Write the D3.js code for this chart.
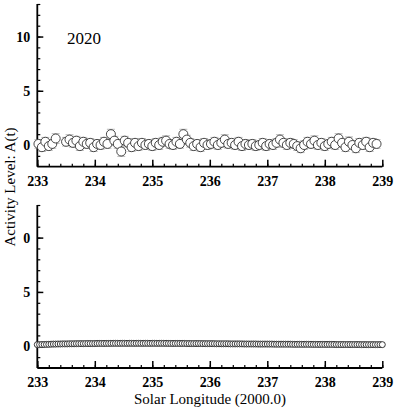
<!DOCTYPE html>
<html><head><meta charset="utf-8">
<script src="https://cdn.jsdelivr.net/npm/d3@7"></script>
<style>body{margin:0;background:#fff}svg{display:block}</style>
</head><body>
<script>
// ---- data ----
const xTicks = [233, 234, 235, 236, 237, 238, 239];
const yTickValuesTop = [10, 5, 0];
const yTickLabelsTop = ["10", "5", "0"];
const yTickValuesBottom = [10, 5, 0];
const yTickLabelsBottom = ["0", "5", "0"];
const yearLabel = "2020";
// top panel: observed activity (longitude grid start/step), null = no data
const topStart = 233.02, topStep = 0.06;
const topValues = [0.1,-0.2,0.3,-0.1,0.1,0.6,null,null,0.3,0.5,
  0.2,0.4,-0.1,0.3,0.1,0.2,-0.2,0.1,0.0,0.3,
  0.1,1.0,0.4,0.1,-0.6,0.4,0.2,-0.2,0.2,-0.1,
  0.2,0.0,0.1,-0.1,0.2,0.0,0.3,0.4,0.1,0.0,
  0.3,0.1,1.0,0.5,0.2,-0.1,0.1,-0.2,0.2,0.0,
  0.1,0.3,0.0,0.2,0.5,0.1,0.2,0.0,0.3,-0.1,
  0.1,0.0,0.1,-0.1,0.0,0.2,-0.1,0.1,0.0,0.2,
  0.5,0.2,0.0,0.2,0.1,-0.1,-0.3,0.0,0.3,0.1,
  0.4,0.0,0.2,-0.1,0.1,0.3,0.0,0.6,0.2,-0.2,
  0.3,0.0,-0.3,0.2,0.0,0.3,-0.2,0.2,0.1];
const topErrors = [0.4,0.4,0.4,0.4,0.4,0.45,null,null,0.4,0.45,
  0.4,0.4,0.4,0.4,0.4,0.4,0.4,0.4,0.4,0.4,
  0.4,0.45,0.4,0.4,0.45,0.4,0.4,0.4,0.4,0.4,
  0.4,0.4,0.4,0.4,0.4,0.4,0.4,0.45,0.4,0.4,
  0.4,0.4,0.45,0.4,0.4,0.4,0.4,0.4,0.4,0.4,
  0.4,0.4,0.4,0.4,0.45,0.4,0.4,0.4,0.4,0.4,
  0.4,0.4,0.4,0.4,0.4,0.4,0.4,0.4,0.4,0.4,
  0.45,0.4,0.4,0.4,0.4,0.4,0.4,0.4,0.4,0.4,
  0.45,0.4,0.4,0.4,0.4,0.4,0.4,0.45,0.4,0.4,
  0.45,0.4,0.4,0.4,0.4,0.4,0.4,0.4,0.4];
// bottom panel: model activity
const botStart = 233.0, botStep = 0.04;
const botValues = [0.15,0.15,0.16,0.16,0.17,0.18,0.19,0.2,0.2,0.21,
  0.21,0.22,0.22,0.22,0.23,0.23,0.23,0.24,0.24,0.24,
  0.24,0.25,0.25,0.25,0.25,0.25,0.26,0.26,0.26,0.26,
  0.26,0.26,0.27,0.27,0.27,0.27,0.27,0.27,0.27,0.27,
  0.27,0.27,0.27,0.27,0.27,0.27,0.27,0.27,0.27,0.27,
  0.27,0.27,0.27,0.27,0.27,0.27,0.27,0.26,0.26,0.26,
  0.26,0.26,0.26,0.26,0.26,0.25,0.25,0.25,0.25,0.25,
  0.25,0.25,0.24,0.24,0.24,0.24,0.24,0.24,0.23,0.23,
  0.23,0.23,0.23,0.23,0.22,0.22,0.22,0.22,0.22,0.22,
  0.21,0.21,0.21,0.21,0.21,0.21,0.2,0.2,0.2,0.2,
  0.2,0.2,0.2,0.19,0.19,0.19,0.19,0.19,0.19,0.19,
  0.19,0.18,0.18,0.18,0.18,0.18,0.18,0.18,0.18,0.18,
  0.17,0.17,0.17,0.17,0.17,0.17,0.17,0.17,0.17,0.17,
  0.16,0.16,0.16,0.16,0.16,0.16,0.16,0.16,0.16,0.16,
  0.16,0.15,0.15,0.15,0.15,0.15,0.15,0.15,0.15,0.15,0.15];
const xTitle = "Solar Longitude (2000.0)";
const yTitle = "Activity Level: A(t)";

// ---- drawing ----
const W = 398, H = 412;
const svg = d3.select("body").append("svg").attr("width", W).attr("height", H);
const x = d3.scaleLinear().domain([233, 239]).range([37.3, 382.3]);
const serif = "'Liberation Serif','Times New Roman',serif";

function panel(top, bottom, yVals, yLabs) {
  const y = d3.scaleLinear().domain([-2, 13]).range([bottom, top]);
  const g = svg.append("g");
  const xMinor = d3.range(233, 239.001, 0.2).map(v => +v.toFixed(2));
  g.append("g").attr("transform", `translate(0,${bottom})`)
    .call(d3.axisTop(x).tickValues(xMinor).tickSize(3).tickFormat(""))
    .call(s => s.select(".domain").remove())
    .selectAll("line").attr("stroke", "#000").attr("stroke-width", 1.2);
  g.append("g").attr("transform", `translate(0,${bottom})`)
    .call(d3.axisTop(x).tickValues(xTicks).tickSize(7).tickFormat(""))
    .call(s => s.select(".domain").remove())
    .selectAll("line").attr("stroke", "#000").attr("stroke-width", 1.5);
  g.append("g").attr("transform", `translate(0,${bottom})`)
    .call(d3.axisBottom(x).tickValues(xTicks).tickSize(0).tickPadding(9).tickFormat(d3.format("d")))
    .call(s => s.select(".domain").remove())
    .selectAll("text").attr("font-family", serif).attr("font-size", 14).attr("font-weight", "bold").attr("fill", "#000");
  const yMinor = d3.range(-1, 13.001, 1);
  g.append("g").attr("transform", `translate(${x.range()[0]},0)`)
    .call(d3.axisRight(y).tickValues(yMinor).tickSize(3).tickFormat(""))
    .call(s => s.select(".domain").remove())
    .selectAll("line").attr("stroke", "#000").attr("stroke-width", 1.2);
  g.append("g").attr("transform", `translate(${x.range()[0]},0)`)
    .call(d3.axisRight(y).tickValues(yVals).tickSize(6).tickFormat(""))
    .call(s => s.select(".domain").remove())
    .selectAll("line").attr("stroke", "#000").attr("stroke-width", 1.5);
  g.append("g").attr("transform", `translate(${x.range()[0]},0)`)
    .call(d3.axisLeft(y).tickValues(yVals).tickSize(0).tickPadding(7).tickFormat((d, i) => yLabs[i]))
    .call(s => s.select(".domain").remove())
    .selectAll("text").attr("font-family", serif).attr("font-size", 14).attr("font-weight", "bold").attr("fill", "#000");
  g.append("line").attr("x1", x.range()[0]).attr("x2", x.range()[0]).attr("y1", top).attr("y2", bottom)
    .attr("stroke", "#000").attr("stroke-width", 1.8);
  g.append("line").attr("x1", x.range()[0]).attr("x2", x.range()[1]).attr("y1", bottom).attr("y2", bottom)
    .attr("stroke", "#000").attr("stroke-width", 1.8);
  return {g, y};
}

// top panel
const P1 = panel(4, 166.7, yTickValuesTop, yTickLabelsTop);
const topData = topValues.map((v, i) => ({lon: topStart + i * topStep, v, e: topErrors[i]})).filter(d => d.v !== null);
const eb = P1.g.append("g").attr("stroke", "#aaa").attr("stroke-width", 0.8);
topData.forEach(d => {
  eb.append("line").attr("x1", x(d.lon)).attr("x2", x(d.lon)).attr("y1", P1.y(d.v - d.e)).attr("y2", P1.y(d.v + d.e));
  eb.append("line").attr("x1", x(d.lon) - 4).attr("x2", x(d.lon) + 4).attr("y1", P1.y(d.v + d.e)).attr("y2", P1.y(d.v + d.e));
  eb.append("line").attr("x1", x(d.lon) - 4).attr("x2", x(d.lon) + 4).attr("y1", P1.y(d.v - d.e)).attr("y2", P1.y(d.v - d.e));
});
P1.g.append("g").selectAll("circle").data(topData).join("circle")
  .attr("cx", d => x(d.lon)).attr("cy", d => P1.y(d.v)).attr("r", 4.5)
  .attr("fill", "#fff").attr("stroke", "#333").attr("stroke-width", 0.9);
svg.append("text").attr("x", 67).attr("y", 44).text(yearLabel)
  .attr("font-family", serif).attr("font-size", 17).attr("fill", "#000");

// bottom panel
const P2 = panel(205, 368, yTickValuesBottom, yTickLabelsBottom);
const botData = botValues.map((v, i) => ({lon: botStart + i * botStep, v}));
P2.g.append("g").selectAll("circle").data(botData).join("circle")
  .attr("cx", d => x(d.lon)).attr("cy", d => P2.y(d.v)).attr("r", 3)
  .attr("fill", "#fff").attr("stroke", "#222").attr("stroke-width", 0.9);

// titles
svg.append("text").attr("x", 210).attr("y", 404).attr("text-anchor", "middle").text(xTitle)
  .attr("font-family", serif).attr("font-size", 15).attr("fill", "#000");
svg.append("text").attr("transform", "translate(15,187) rotate(-90)").attr("text-anchor", "middle").text(yTitle)
  .attr("font-family", serif).attr("font-size", 15).attr("fill", "#000");
</script>
</body></html>
